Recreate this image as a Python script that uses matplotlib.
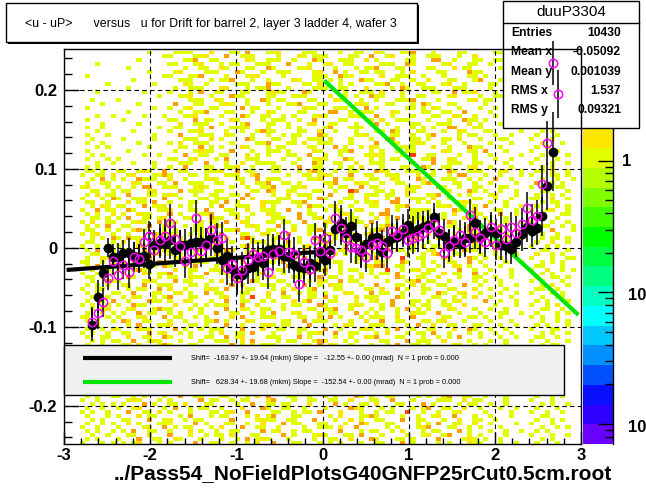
import numpy as np
import matplotlib
matplotlib.use("Agg")
import matplotlib.pyplot as plt
from matplotlib.colors import ListedColormap, LogNorm
from matplotlib.patches import Rectangle
from matplotlib.lines import Line2D
from matplotlib.ticker import MultipleLocator, NullFormatter, LogLocator

plt.rcParams['font.family'] = ['Liberation Sans', 'DejaVu Sans']
plt.rcParams['axes.unicode_minus'] = False

W, H = 646, 494

# ---------------- data ----------------
X_RANGE = (-3.0, 3.0)
Y_RANGE = (-0.25, 0.25)
N_XBINS = 100
N_YBINS = 100
FIRST_PROFILE_BIN = 5

# profile <u-uP> per u-bin (black filled circles)
PROFILE_MEAN = [
    -0.098, -0.062, -0.032, 0.000, -0.011, -0.012, -0.007, -0.006, -0.010, -0.012,
    -0.010, -0.021, 0.003, 0.006, 0.005, 0.010, -0.003, 0.004, 0.004, 0.006,
    0.008, 0.007, 0.005, 0.012, 0.000, -0.015, -0.010, -0.027, -0.033, -0.034,
    -0.026, -0.024, -0.017, -0.019, -0.003, -0.002, -0.002, -0.010, -0.011, -0.022,
    -0.024, -0.025, -0.019, -0.023, -0.007, -0.015, -0.003, 0.024, 0.031, 0.019,
    0.028, 0.014, -0.005, 0.005, 0.012, 0.014, -0.005, 0.008, 0.012, 0.014,
    0.019, 0.029, 0.021, 0.024, 0.027, 0.029, 0.039, 0.019, 0.015, 0.005,
    0.008, 0.005, 0.012, 0.012, 0.032, 0.014, 0.019, 0.021, 0.019, 0.004,
    0.002, -0.002, 0.008, 0.017, 0.027, 0.021, 0.025, 0.040, 0.078, 0.122, np.nan]
PROFILE_ERR = [
    0.020, 0.021, 0.017, 0.012, 0.016, 0.018, 0.017, 0.019, 0.018, 0.017,
    0.016, 0.018, 0.020, 0.019, 0.022, 0.024, 0.021, 0.019, 0.020, 0.021,
    0.023, 0.019, 0.020, 0.022, 0.021, 0.020, 0.022, 0.021, 0.023, 0.024,
    0.020, 0.021, 0.019, 0.022, 0.021, 0.020, 0.018, 0.022, 0.021, 0.023,
    0.024, 0.022, 0.021, 0.020, 0.023, 0.021, 0.019, 0.022, 0.023, 0.020,
    0.021, 0.022, 0.020, 0.021, 0.019, 0.020, 0.021, 0.018, 0.020, 0.019,
    0.018, 0.020, 0.019, 0.021, 0.020, 0.019, 0.018, 0.020, 0.021, 0.019,
    0.020, 0.018, 0.021, 0.019, 0.020, 0.021, 0.019, 0.020, 0.018, 0.020,
    0.021, 0.019, 0.020, 0.021, 0.019, 0.020, 0.022, 0.025, 0.030, 0.050, np.nan]
# second profile (magenta open circles)
PROFILE2_MEAN = [
    -0.094, -0.083, -0.069, -0.038, -0.017, -0.035, -0.022, -0.031, -0.011, -0.014,
    0.007, 0.015, -0.003, 0.010, 0.015, 0.032, 0.011, 0.002, -0.017, -0.005,
    0.038, -0.004, 0.004, 0.022, 0.010, 0.012, -0.026, -0.020, -0.038, -0.028,
    -0.015, -0.008, -0.012, -0.010, -0.030, -0.008, -0.004, 0.016, -0.005, -0.008,
    -0.046, -0.018, -0.027, 0.010, -0.004, 0.012, -0.007, 0.038, 0.025, 0.012,
    0.001, 0.000, -0.003, -0.011, 0.004, 0.006, 0.002, -0.006, 0.021, 0.016,
    0.024, 0.010, 0.012, 0.015, 0.019, 0.025, 0.030, 0.023, -0.006, 0.002,
    0.010, 0.016, 0.008, 0.042, 0.020, 0.012, 0.008, 0.026, 0.004, 0.024,
    0.011, 0.026, 0.019, 0.030, 0.051, 0.035, 0.040, 0.081, 0.133, 0.234, 0.195]
PROFILE2_ERR = [
    0.019, 0.020, 0.018, 0.016, 0.017, 0.019, 0.018, 0.020, 0.019, 0.018,
    0.017, 0.019, 0.021, 0.020, 0.021, 0.023, 0.022, 0.020, 0.021, 0.020,
    0.022, 0.020, 0.021, 0.021, 0.022, 0.021, 0.021, 0.022, 0.022, 0.023,
    0.021, 0.020, 0.020, 0.021, 0.022, 0.021, 0.019, 0.021, 0.022, 0.022,
    0.023, 0.021, 0.022, 0.021, 0.022, 0.020, 0.020, 0.021, 0.022, 0.021,
    0.020, 0.021, 0.021, 0.020, 0.020, 0.021, 0.020, 0.019, 0.021, 0.020,
    0.019, 0.021, 0.020, 0.020, 0.021, 0.020, 0.019, 0.021, 0.020, 0.020,
    0.019, 0.019, 0.020, 0.020, 0.021, 0.020, 0.020, 0.019, 0.019, 0.021,
    0.020, 0.020, 0.021, 0.020, 0.020, 0.021, 0.021, 0.024, 0.028, 0.028, 0.030]

# straight-line fits (u from, u to, value from, value to)
FIT_BLACK = (-2.97, -0.03, -0.028, -0.005)
FIT_GREEN = (0.02, 2.97, 0.212, -0.085)

LEGEND_TEXT = [
    "Shift=  -163.97 +- 19.64 (mkm) Slope =   -12.55 +- 0.00 (mrad)  N = 1 prob = 0.000",
    "Shift=   628.34 +- 19.68 (mkm) Slope =  -152.54 +- 0.00 (mrad)  N = 1 prob = 0.000",
]
STATS_NAME = "duuP3304"
STATS_LABELS = ["Entries", "Mean x", "Mean y", "RMS x", "RMS y"]
STATS_VALUES = ["10430", "-0.05092", "0.001039", "1.537", "0.09321"]
TITLE = "<u - uP>      versus   u for Drift for barrel 2, layer 3 ladder 4, wafer 3"
FOOTER = "../Pass54_NoFieldPlotsG40GNFP25rCut0.5cm.root"
X_TICKS = [-3, -2, -1, 0, 1, 2, 3]
Y_TICKS = [-0.2, -0.1, 0.0, 0.1, 0.2]
Z_RANGE = (0.00706, 6.99)

# 2D histogram cells, top row first ('.' empty, g/y/o/r increasing content)
CELL_LEVEL = {'g': 1.0, 'y': 1.5, 'o': 2.0, 'r': 3.0}
HIST_ROWS = [
    "..........|......g...|.gggg...y.|..gg.o...g|gy....ggg.|...g..gg..|yg...ggo..|.g....gg..|...gg.....|..........",
    "..........|.........g|g....ggy..|.o..ggg...|.g...yg.gg|g....gg..o|..gy...g..|ggg...g..y|.....g....|..........",
    "..........|....g.....|...ggo..gg|.....yg..g|gg..g...og|...ggg..y.|g.....gg..|.oo..g...g|g..gg.....|g.........",
    "......g...|..........|gg...gy...|g.gg...ggg|...o...g..|gy..gg....|.ggg..og..|...gy...gg|..g..g....|..........",
    "..........|..g.......|...g..gg..|yg...gg..o|g....ggy..|..g...g.gg|o...gg....|gg...y.gg.|....g..g..|.g........",
    "..........|......g...|.gy....ggg|...og...g.|.ggg....gy|..o.g..gg.|gg...g.y..|..gg....og|g....g....|..........",
    "....g.....|.........g|g...ggo...|.g...gyy..|..g.....gg|g..ogg....|.y..ggg..g|...g....gg|.g...gg...|g.g.......",
    "..........|...g......|..ggg...g.|ggo...g..g|....yg..gg|.g.g...ogg|...gg..g..|y...gg...g|o...g.....|..........",
    "........g.|.......g..|...yg..g..|...ggg...o|gg....gg.y|...g.g....|ggo..g..gg|...gy..g..|..gg...g..|.g........",
    "..........|..g.......|.g..ggg...|yy...g.ggo|...g....gg|g..gg...y.|...g.og..g|gg...ggg..|..g....g..|g..g......",
    "......g...|.....g....|g...g.o..g|g...gg...g|ygg...og..|....g..ggg|.y...g....|.gg..o.ggy|...g..g...|..........",
    "..........|........g.|..ggy...g.|..ogg....g|g...ggg...|.y..g.g..o|gg...g..gg|....gy....|g..gg.....|..g.......",
    ".....g....|g.........|....ggg..y|g....g..og|.gg....gg.|..yg...g..|g...gggo..|..g.....gy|.gg..g..g.|g.........",
    ".......g..|....g.....|.o...gg...|gyg..g...g|...ggo...g|g.....gyg.|..gg...g.o|g...gg....|.g...g....|.g..g.....",
    "....g.....|.......g..|g..gy...gg|....o.gg..|.g....ygg.|..ggg...o.|g.....gg.g|.yg...g...|g..g...g..|..........",
    "..........|..g.......|..g..ggo..|.gg...g..y|g....gg...|.oo..g.ggg|...yg....g|g..gg..o..|..g...g...|g..g......",
    "......g..g|.....g...g|...ggy....|g...og..gg|..g.g...gy|g....ggg..|o..g...g..|.gg..yg..g|...g..g...|.g........",
    "....g.....|.g........|gg...o.gg.|..yg....g.|ggg..g..o.|...gg....g|.y..ggg...|g...g..ogg|.g....g...|..g..g....",
    ".......g..|....g.....|..y..ggg..|g...go...g|g..g...yy.|.gg...g..g|o.g....gg.|..ggg...y.|g...g.....|g.........",
    "....g..g..|........g.|.gg...g.o.|..gggy...g|...g.g....|go...ggg..|y...g..g.g|.g..oo...g|g....gg...|.g..g.....",
    "......g...|...g......|g...ggy...|.g..g..gog|g....gg..y|..g...g...|gg.og...gg|...g..yg..|.gg.....g.|..g.g.....",
    "....g...g.|.......g..|..o...ggg.|.yg...g..g|..g.gg...o|g.....ggy.|...gg..g..|go....g.gg|...g..g...|.g...g....",
    ".....g....|.g.....g..|...ggg..y.|g....og...|gg..g..ggg|.y...g...g|..oo...gg.|g..gg.y...|g...gg....|g...g.....",
    "....g..g..|....g.....|g.y..ggg..|..g....ggo|...gg.y..g|gg...g....|o..gg..gyg|...g...g..|..g...g...|..g...g...",
    "......g.g.|......g...|..gg..o.g.|g...yg...g|.gg....gg.|..o.g..g.y|g....ggg..|.y..g...og|g...g.....|.g.g......",
    "....g.....|..g.......|.g...gygg.|..o...g..g|gg.g....yg|...ggo...g|.g..g.gg..|...yg...gg|.o...g....|g....g....",
    ".....g.g..|.....g..g.|...o..gg..|gg...y.g.g|...gg..o..|g..g....gg|yg...g.r..|gg....g..g|..g.....g.|..g.g..g..",
    "....g...g.|g.........|gg..gy...g|.o...ggg..|..g..g..gy|g...og...g|.g.gg....g|go..yg...g|...g..g...|.g...g....",
    "......g..g|...g...g..|..ggg..o..|.g..y..ggg|g...g...og|..gg..y..g|gg.....g..|.o..ggg..g|g....g....|g...g..g..",
    "....g.g...|.......g..|g..o...gg.|.ggy..g...|gg...o..gg|...g.g.y..|.g...gg..o|g..gg...gy|..g...g...|..g.g.....",
    "....gg.g..|gg..gyg..o|..gg...ggg|y..o.gg...|gg...g.yog|..g..gg...|oyg...ggg.|.g..og..gg|g...gy..g.|.gg.y..g..",
    "...g..gg.y|..gy...ggo|g...gg.g..|.ggg..yo..|...g..gg.g|yg...o..gg|..ggg...y.|gg..g.oo..|.g..g...g.|g...gg.g..",
    ".....g.o.g|.g..oggg..|y..g...gyg|...gg..o.g|gg.....ggy|..o.gg...g|g..yg...og|...ggg..g.|g..o..g...|..g..g..g.",
    "....g..gg.|...yg...gg|.o..ggg..g|g...y..ggo|..gg.g....|ggo...ygg.|.g..gg...g|oy...gg..g|..g....g..|.o..g.g...",
    "...gy...g.|g..g.oo..g|gg...gyg..|..g..g..gg|o...ggy...|.g.gg..o.g|g.....ggy.|..og..g..g|g...gg....|g.g..gg...",
    ".....gg..g|.gg...gy..|..o.ggg..g|g.....gg.o|y..gg...gg|..g..ro...|gg.g..yg..|...gg...og|.g..g..g..|..gg...g..",
    "....g.y.gg|..o...gg.g|yg...g..gg|..gg.o....|g..y.ggg..|.o...g..gg|g.gg..y...|ggo...g.g.|..gy...g..|.g..g.g...",
    "...g...g.o|g..ggy...o|..g...gg.g|gg..o.y...|.ggg...g.o|g...gg..y.|..g.o..ggg|.y..g....g|g..g..g...|gg..y..g..",
    "....gg..g.|..y.gg.o..|g...gg..gg|.o.g....yg|gg..ggo...|...g..g.gg|y..oo...g.|g.g...gyg.|..g..g....|..g.gg....",
    ".....g.yg.|gg...o.ggy|..g.g...g.|o..ggg..y.|g....g.ogg|.gy..g...g|g...ggo...|..ggy..g.g|.o...g..g.|.g...g.g..",
    "...g..o.gg|..og....gg|y...gg.o..|.gg..y..gg|g..o...g..|g.gg..gy..|..o.g..ggg|g....og..y|...gg..g..|g..gy..g..",
    "....g.g..y|.g..ygg...|o.g...ggo.|..gg..g..y|gg...o.gg.|...gyg...g|.oo....gg.|g..g.y...g|g...o..g..|..g...gg..",
    ".....gg.g.|g.o..gg.gy|...gg...og|g..y.g....|ggg..o..gy|.g...gg...|g.y.o..ggg|...g...gyo|.g...g....|.og..g....",
    "...g.y..gg|...gyg..o.|gg....g.gg|.o..yg...g|g.gg..o...|yg...ggg.o|..g....g.y|gg..og...g|..g..g..g.|g...g..g..",
    "....g.g.o.|.gg...o..g|y..g.gg..o|g....gyg..|.o..g..gg.|g..gg...y.|.gog..g..g|y...gg..o.|g...g.....|..gg..g.g.",
    "....gg..g.|g..yog...g|.g...gg.y.|.ggo...g.g|g...y..ggo|..g.g....g|go..ggy...|..g...g.og|.g..g..g..|.g..o...g.",
    "...g.gy..g|..g....ogg|gy..g.g...|o...gg..yg|.g.o...g..|ggg..y..go|...g.gg...|y.o..g..gg|g....g....|g.g..g....",
    ".....g.g.o|g.ogg..y..|..g...g.gg|.y..org...|gg...g..og|..g.gy...g|go...g.gg.|..yg...o.g|.g...g..g.|..g.gg.g..",
    "....gg...g|.y..g...gg|o.gg..o..g|..g...ygg.|g..o.g...g|gy...g.go.|..gg...g..|g...oyg..g|..g..g....|.g..y..g..",
    "...g..g.y.|g...yg..o.|.g.gg...gg|y...go...g|..gg..gy..|o...g..ggo|g.y....g.g|.gg..o...g|g..g...g..|g..g.g....",
    "....g.o.gg|.gg..o.g.y|g....gg..g|.oy..g.gg.|..g...o..g|gg.yg....g|..o.gg.g..|gy...g.ogg|...g..g...|..gg...g..",
    ".....gg..g|..o...ggy.|g.g..g...o|gg...yg..g|.o..gg...g|..g.g..oy.|gg....g..g|.yo..gg...|g..g...g..|.y..g.g...",
    "....g..yg.|g...gyo...|.gg...g.gg|..o.g..y..|gg..g.o..g|.y....ggg.|o.g..r..gg|...gy...og|.g..g.....|g...g..gg.",
    "...gg..g.g|.g.gg...oy|..g..ggg..|o...y..g.g|g.o....ggy|..gg..g...|gy...og..g|.g..gg..o.|g....g..g.|..g.g.g...",
    "....g.o..g|..y...gg.o|g..g.o...g|.gg..g.yg.|...o..gg..|g..g....gy|oo..gg...g|..g..yg.g.|.g..g.....|.gg...g...",
    ".....g.gg.|g..gog....|.y..gg..gg|g...o..g..|.gg..y...g|o..g.gg..g|..r..g.gy.|gg....o..g|..g...g...|g..y..g.g.",
    "...g..g..y|.g...yg.gg|o...g..o..|gg.g...gy.|..g..ggo..|y..g...g.g|.gg.o....g|g..y.gg..o|.g....g...|..g.g.....",
    "....gg.g..|..og....g.|gg..ygg...|..g.o..g.g|y...gg...o|.gg..g.y..|g...og..gg|..y...g..g|g..g..g...|.g..gg.g..",
    ".....g..og|g....gyg..|.o.gg...g.|y..g..og..|.gg....g.y|g..o.gg...|..g...gyo.|gg..g....g|.g..g.....|g.g...g...",
    "....g.g.g.|.gy..o..gg|g...gg.g..|..o.y...gg|g..g..o..g|.ygg...g..|o...gg.y.g|..gg...o..|g...g..g..|..g.y..g..",
    "...g..gg..|..g.gg..o.|y..g...gyg|.o...gg...|g.g.y..go.|..gg....gg|.y..o.g..g|g...gg...y|..g..g....|.gg..g....",
    "....g.y..g|g..o...gg.|.gy.g..o.g|g...gg...y|..o..g.gg.|g...yg...o|.gg..g...g|..og..gy..|g...g..g..|g...g.g...",
    ".....gg.g.|.g.yg..g.g|o...gg....|gy..g.r..g|..gg...gg.|o.g...y.gg|g...og....|.gg..g.g.y|..g...g...|..g..gg...",
    "....g..g.o|..g...ogg.|g..yg...g.|.o..gg..g.|g...y.go..|.gg...g..g|y..o...gg.|g..g.gy...|.o..g..g..|.g.g...g..",
    "...g.g..g.|g..ogg....|.y...g.g.g|gg..o..y..|..g.gg...o|g....gyg..|.g.o...g.g|g..gg..y..|...g...g..|g..g.y....",
    ".....g.gy.|..gy...gog|g...g.g...|.o..yg..gg|..g....gg.|ygo..g...g|.g..g.o.g.|g...yg...g|..g..g....|..gg..g...",
    "....g..g.g|.g..o.gg..|g.y...g..o|..gg..g.g.|o...gy...g|.gg...o.g.|g...g..ygg|..o...g...|g...gg..g.|.g...g.g..",
    "...gg...g.|g...gy...o|.gg..g.g..|..y.o...gg|g....gg..y|.o.g...g.g|gg..y..o..|...gg...gg|.g..g.....|g.g..g....",
    "....g.g..g|.oy..gg...|g..g...ggo|.g...yg...|..gg..o.gg|g....g..y.|.o..gg...g|g.gy...g..|..g...g...|..g..g.g..",
    ".....gg...|..g.o...gg|y...gg.g..|.o..g...gy|g.gg...o..|..g.yg...g|gg....g.o.|.y..gg...g|g...g..g..|.g.g...g..",
    "....g..g.y|g...ygg...|.o.g..g.gg|g...o...y.|.gg..gg...|o..g...gyg|..g.o..g..|gg...y..og|..g..g....|g...gg....",
    "...g.g..g.|.gg...o.gy|..g.g...g.|y..gg.o...|g....g.ggy|..o..gg...|g.y...g.gg|.o..g...g.|g..g..g...|..g.g..g..",
    "....g..gg.|..y..gg..o|g...g..gg.|.o.gy....g|gg...o.g..|..g..g..yg|o...gg...g|..g.g.o...|g...g..g..|.gg..g....",
    ".....g.g.g|g..o..gyg.|..g...g..g|gg..y.o...|.g.gg...go|y...g.g...|.gg...o.gg|g..y....g.|..g..g....|g..g...g..",
    "....g..g..|.gg.y...go|g...gg....|..o.g.y.gg|g.....gg.o|.yg..g...g|..g.o..gg.|g....gy..g|.g...g....|..g.gg....",
    "", "", "", "", "", "", "", "", "", "", "", "",
    "....g.g..g|g..g.y...g|..o..gg...|gg...g.y.o|...gg..g..|y.g...og.g|..gg....g.|g..yo..gg.|.g...g....|.g..g.g...",
    "...g..g...|..gyg...g.|g.....o.gg|..g.gg...y|o...g..gg.|.gg..y...g|g..o...g..|..ggg..y.g|g....g....|g...g.....",
    ".....g.g.g|.g...o.g..|gg.y...gg.|...g..o..g|g.gg...y..|..o.g..gg.|y...gg...o|.g....g.gg|..g..g....|..g.g..g..",
    "....g..g..|g..gy....g|.o..g.gg..|g...y...og|..gg..g...|g....oyg..|.g.g...g.g|o..gg..y..|g...g..g..|.g...g....",
    "...g.g..g.|..o..gg.y.|g...g...gg|.gy..o....|gg..g.gg.o|...y...g..|g.gg..r..g|..g..gy...|.g....g...|g..g..g...",
    "....g...g.|g...y.gg..|..g.o...g.|gg...g.y.g|o...gg....|.g.y...ggo|g....g..g.|.gy..o...g|..g...g...|..gg......",
    ".....g.g..|.gg...o..g|y..g.gg...|..o....gyg|g..gg...o.|..g..y.g..|gg...o..gg|...g..y..g|g..g......|.g..g.g...",
    "....g..g.g|..y.g...gg|g....o.g..|.gg..g..y.|..o.gg...g|g...g..oy.|..gg....g.|g.o..gg..y|..g....g..|g...g.....",
    "...g..g...|g....gy..o|.g.gg...g.|y...o..gg.|.g....g..g|gg.y..o...|..g.g...gy|o...gg..g.|g...g.....|..g..g.g..",
    "....g.g..g|.g.o..gg..|g...y.g..g|..gg....o.|gy..g.gg..|...o...g.g|g..g.y...g|.gg...o.g.|..g..g..g.|.g.g......",
    ".....g..g.|..gg..y...|o...g..g.g|g.y...gg..|..o.g...gy|g...gg.o..|.g....g..g|y..go...g.|g....g....|g...g..g..",
    "....g.g...|g...o..gg.|.yg...g...|g..g.o.gyg|...g....g.|.gg..y...o|g...gg.g..|..o....gyg|.g..g.....|..g.g.....",
    "...g...g.g|.g.gy...g.|g....o..gg|..g..g.y..|o...gg...g|.g.y...g..|gg...o.g..|..g.g...yg|g...g..g..|.g...g....",
]

# ---------------- figure ----------------
def fx(x):
    return x / W

def fy(y):
    return 1 - y / H

fig = plt.figure(figsize=(W / 100, H / 100), dpi=100)
fig.patch.set_facecolor('white')

PALETTE = ['#6a00ff', '#3000ff', '#0a10ff', '#0050ff', '#0090ff', '#00c8ff',
           '#00ffff', '#00ffc0', '#00ff80', '#00ff40', '#00ff00', '#40ff00',
           '#80ff00', '#b4ff00', '#e2ff00', '#ffe600', '#ffa000', '#ff4000',
           '#ff2000', '#ff0000']
cmap = ListedColormap(PALETTE)
norm = LogNorm(vmin=Z_RANGE[0], vmax=Z_RANGE[1])

cax = fig.add_axes([fx(583), fy(444), fx(30), (444 - 49.5) / H])
ax = fig.add_axes([fx(64), fy(444), fx(517), (444 - 49.5) / H])
cax.set_zorder(0)
ax.set_zorder(1)

# histogram
xedges = np.linspace(X_RANGE[0], X_RANGE[1], N_XBINS + 1)
yedges = np.linspace(Y_RANGE[0], Y_RANGE[1], N_YBINS + 1)
Z = np.full((N_YBINS, N_XBINS), np.nan)
for i, row in enumerate(HIST_ROWS):
    s = row.replace('|', '').ljust(N_XBINS, '.')[:N_XBINS]
    for j, ch in enumerate(s):
        if ch in CELL_LEVEL:
            Z[N_YBINS - 1 - i, j] = CELL_LEVEL[ch]
pcm = ax.pcolormesh(xedges, yedges, np.ma.masked_invalid(Z), cmap=cmap, norm=norm,
                    zorder=1, linewidth=0, antialiased=False)

ax.set_xlim(*X_RANGE)
ax.set_ylim(Y_RANGE[0] + 0.0015, Y_RANGE[1] + 0.0013)

# grid
for xv in X_TICKS[1:-1]:
    ax.axvline(xv, color='black', lw=0.8, ls=(0, (4, 3)), zorder=2)
for yv in Y_TICKS:
    ax.axhline(yv, color='black', lw=0.8, ls=(0, (4, 3)), zorder=2)

# fits
ax.plot(FIT_BLACK[:2], FIT_BLACK[2:], color='black', lw=3, zorder=3, solid_capstyle='butt')
ax.plot(FIT_GREEN[:2], FIT_GREEN[2:], color='#00e600', lw=3, zorder=3, solid_capstyle='butt')

# profiles
centers = 0.5 * (xedges[:-1] + xedges[1:])
pu = centers[FIRST_PROFILE_BIN:FIRST_PROFILE_BIN + len(PROFILE_MEAN)]
pm = np.array(PROFILE_MEAN, dtype=float)
pe = np.array(PROFILE_ERR, dtype=float)
p2 = np.array(PROFILE2_MEAN, dtype=float)
pe2 = np.array(PROFILE2_ERR, dtype=float)
ax.errorbar(pu, p2, yerr=pe2, fmt='none', ecolor='black', elinewidth=1.1,
            capsize=0, zorder=5, clip_on=False)
ax.errorbar(pu, pm, yerr=pe, fmt='o', color='black', ms=6, elinewidth=1.1,
            capsize=0, zorder=5, clip_on=False)
ax.plot(pu, p2, 'o', mfc='none', mec='#ff00ff', ms=6, mew=1.1, zorder=6, clip_on=False)

# axes style
for sp in ax.spines.values():
    sp.set_linewidth(1.0)
    sp.set_zorder(7)
ax.set_xticks(X_TICKS)
ax.set_yticks(Y_TICKS)
ax.set_xticklabels([f"{v:g}" for v in X_TICKS])
ax.set_yticklabels([f"{v:g}" for v in Y_TICKS])
ax.xaxis.set_minor_locator(MultipleLocator(0.2))
ax.yaxis.set_minor_locator(MultipleLocator(0.02))
ax.tick_params(which='both', direction='in', top=False, right=False, width=1, colors='black')
ax.tick_params(axis='y', which='major', length=11, pad=5)
ax.tick_params(axis='y', which='minor', length=5.5)
ax.tick_params(axis='x', which='major', length=9, pad=3)
ax.tick_params(axis='x', which='minor', length=4.5)
for lab in ax.get_xticklabels() + ax.get_yticklabels():
    lab.set_fontsize(12)
    lab.set_fontweight('bold')

# colour bar
cb = fig.colorbar(pcm, cax=cax)
cb.outline.set_visible(False)
cax.yaxis.set_ticks_position('right')
cax.set_yticks([0.01, 0.1, 1.0])
cax.set_yticklabels(['', '', ''])
cax.yaxis.set_minor_locator(LogLocator(base=10, subs=np.arange(2, 10)))
cax.yaxis.set_minor_formatter(NullFormatter())
cax.tick_params(which='both', direction='in', right=True, left=False, width=1, colors='black')
cax.tick_params(which='major', length=11)
cax.tick_params(which='minor', length=6)
cax.plot([1, 1], [0, 1], transform=cax.transAxes, color='black', lw=1, clip_on=False)
fig.text(fx(622), fy(161), "1", fontsize=12, fontweight='bold', va='center', ha='left')
fig.text(fx(628), fy(296), "10", fontsize=12, fontweight='bold', va='center', ha='left')
fig.text(fx(628), fy(428), "10", fontsize=12, fontweight='bold', va='center', ha='left')

# title box
fig.patches.append(Rectangle((fx(8), fy(44)), fx(411), (44 - 5) / H, transform=fig.transFigure,
                             facecolor='black', edgecolor='none', zorder=2))
fig.patches.append(Rectangle((fx(6), fy(42)), fx(411), (42 - 3) / H, transform=fig.transFigure,
                             facecolor='white', edgecolor='black', lw=1, zorder=3))
fig.text(fx(25), fy(24), TITLE, fontsize=8.9, va='center', ha='left', zorder=4)

# stats box (inside main axes so that markers are drawn over it)
ax.add_patch(Rectangle((fx(503), fy(128)), fx(136), 127 / H, transform=fig.transFigure,
                       facecolor='white', edgecolor='black', lw=1, zorder=4.5, clip_on=False))
ax.add_line(Line2D([fx(503), fx(639)], [fy(23), fy(23)], transform=fig.transFigure,
                   color='black', lw=1, zorder=4.6, clip_on=False))
ax.text(fx(571), fy(12), STATS_NAME, transform=fig.transFigure, fontsize=11,
        ha='center', va='center', zorder=4.7, clip_on=False)
for i, (lab, val) in enumerate(zip(STATS_LABELS, STATS_VALUES)):
    yy = 33 + i * 19.3
    ax.text(fx(511), fy(yy), lab, transform=fig.transFigure, fontsize=8.7, fontweight='bold',
            ha='left', va='center', zorder=4.7, clip_on=False)
    ax.text(fx(621), fy(yy), val, transform=fig.transFigure, fontsize=8.7, fontweight='bold',
            ha='right', va='center', zorder=4.7, clip_on=False)

# fit legend box
ax.add_patch(Rectangle((fx(64), fy(395)), fx(500), 50 / H, transform=fig.transFigure,
                       facecolor='#f0f0f0', edgecolor='black', lw=1, zorder=8, clip_on=False))
for i, (col, txt) in enumerate(zip(['black', '#00e600'], LEGEND_TEXT)):
    yy = 358 + i * 24
    ax.add_line(Line2D([fx(83), fx(172)], [fy(yy), fy(yy)], transform=fig.transFigure,
                       color=col, lw=3, zorder=9, clip_on=False, solid_capstyle='butt'))
    ax.text(fx(191), fy(yy), txt, transform=fig.transFigure, fontsize=5.3, ha='left',
            va='center', zorder=9, clip_on=False)

fig.text(fx(612), fy(474), FOOTER, fontsize=15, fontweight='bold', ha='right', va='center')

fig.savefig("out.png", dpi=100, facecolor='white')
